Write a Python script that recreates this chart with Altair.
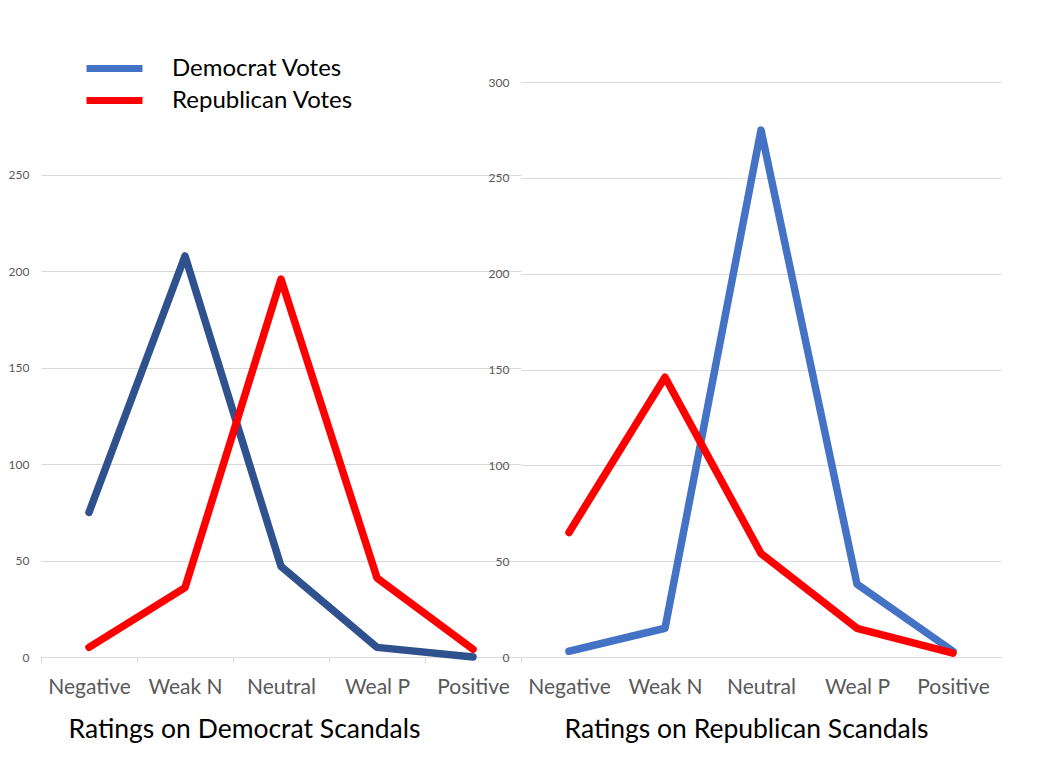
import altair as alt
import pandas as pd

categories = ["Negative", "Weak N", "Neutral", "Weal P", "Positive"]

left_dem = [75, 208, 47, 5, 0]
left_rep = [5, 36, 196, 41, 4]
right_dem = [3, 15, 275, 38, 3]
right_rep = [65, 146, 54, 15, 2]

left_ticks = [0, 50, 100, 150, 200, 250]
right_ticks = [0, 50, 100, 150, 200, 250, 300]

left_title = "Ratings on Democrat Scandals"
right_title = "Ratings on Republican Scandals"

left_df = pd.DataFrame(
    [{"cat": c, "key": "Democrat Votes L", "value": v} for c, v in zip(categories, left_dem)]
    + [{"cat": c, "key": "Republican Votes", "value": v} for c, v in zip(categories, left_rep)]
)
right_df = pd.DataFrame(
    [{"cat": c, "key": "Democrat Votes", "value": v} for c, v in zip(categories, right_dem)]
    + [{"cat": c, "key": "Republican Votes", "value": v} for c, v in zip(categories, right_rep)]
)

FONT = "Lato"
GRID = "#D9D9D9"
LABEL = "#595959"

color_scale = alt.Scale(
    domain=["Democrat Votes", "Republican Votes", "Democrat Votes L"],
    range=["#4472C4", "#FF0000", "#2F528F"],
)
legend = alt.Legend(
    orient="none", legendX=56, legendY=11, title=None,
    values=["Democrat Votes", "Republican Votes"],
    symbolType="M-2,0H2", symbolStrokeWidth=7, symbolSize=784,
    labelFontSize=24, labelFont=FONT, labelColor="black", labelLimit=1000,
    labelOffset=40, rowPadding=-2,
)


def panel(df, dmax, ticks, title, title_x, tick_opacity):
    return alt.Chart(df).mark_line(
        strokeWidth=7.5, strokeCap="round", strokeJoin="round"
    ).encode(
        x=alt.X("cat:N", sort=categories, bandPosition=0.5,
                scale=alt.Scale(type="band", paddingInner=0, paddingOuter=0),
                axis=alt.Axis(
                    title=title, titleX=title_x, titleY=80, titleAlign="center",
                    titleBaseline="alphabetic", titleFont=FONT, titleFontSize=26.5,
                    titleFontWeight="normal", titleColor="black",
                    labelAngle=0, labelFont=FONT, labelFontSize=21, labelColor=LABEL,
                    labelBaseline="alphabetic", labelPadding=30,
                    domainColor=GRID, tickColor=GRID, tickSize=6, tickBand="extent",
                    tickOpacity=tick_opacity, grid=False)),
        y=alt.Y("value:Q", scale=alt.Scale(domain=[0, dmax], nice=False, zero=True),
                axis=alt.Axis(values=ticks, title=None, domain=False, ticks=False,
                              labelFont=FONT, labelFontSize=12, labelColor=LABEL,
                              labelPadding=12, gridColor=GRID)),
        color=alt.Color("key:N", scale=color_scale, legend=legend),
    ).properties(width=480, height=617)


left = panel(left_df, 320, left_ticks, left_title, 203, 1)
right = panel(right_df, 322, right_ticks, right_title, 225, 0)

chart = alt.hconcat(left, right, spacing=0, bounds="flush").properties(
    padding={"left": 0, "top": 32, "right": 5, "bottom": 5}
).configure_view(stroke=None)

chart.save("out.html", embed_options={"renderer": "svg", "actions": False})
